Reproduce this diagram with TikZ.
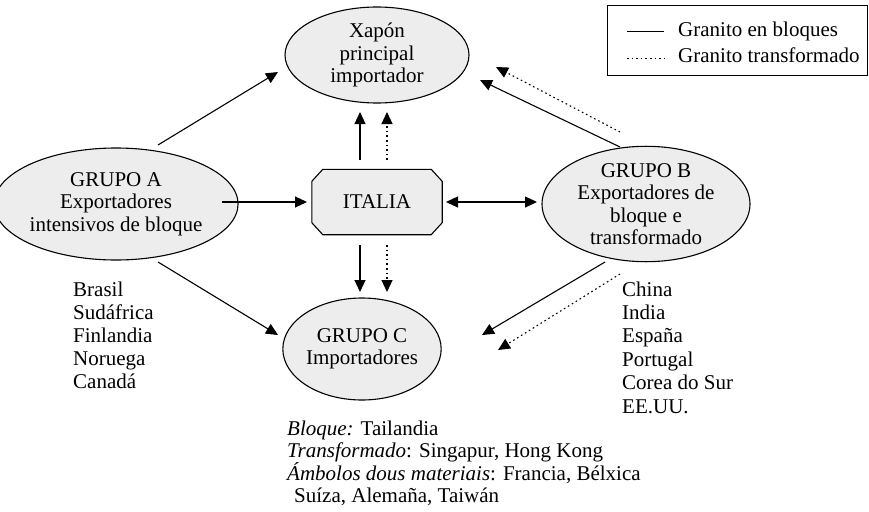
\documentclass[tikz,border=0pt]{standalone}
\usepackage{fontspec}
\setmainfont{Liberation Serif}
\usetikzlibrary{shapes.geometric,arrows.meta}
\begin{document}
\begin{tikzpicture}[x=1pt,y=-1pt,
  every node/.style={font=\fontsize{21}{22.5}\selectfont},
  oval/.style={ellipse,draw,fill=black!7,line width=1.1pt,inner sep=0pt,align=center},
  arr/.style={line width=1.1pt,-{Triangle[length=12pt,width=11pt]}},
  dotarr/.style={arr,dash pattern=on 1.6pt off 3pt},
  txt/.style={anchor=base west,inner sep=0pt}]
\useasboundingbox (0,0) rectangle (869,511);

% legend
\node[draw,line width=0.9pt,minimum width=260pt,minimum height=70pt,anchor=north west,inner sep=0pt] (leg) at (607,5) {};
\coordinate (l1a) at (627,31.5); \coordinate (l1b) at (664,31.5);
\coordinate (l2a) at (627,58.5); \coordinate (l2b) at (664,58.5);
\draw[line width=1pt] (l1a) -- (l1b);
\draw[line width=1pt,dash pattern=on 1.6pt off 3pt] (l2a) -- (l2b);
\node[txt] (lt1) at (678,36.5) {Granito en bloques};
\node[txt] (lt2) at (678,63) {Granito transformado};

% main nodes
\node[oval,minimum width=184pt,minimum height=96pt] (X) at (377,55) {Xapón\\principal\\importador};
\node[oval,minimum width=208pt,minimum height=112pt] (A) at (116,204) {GRUPO A\\Exportadores\\intensivos de bloque};
\node[oval,minimum width=208pt,minimum height=112pt] (B) at (646,204) {GRUPO B\\Exportadores de\\bloque e\\transformado};
\node[oval,minimum width=155pt,minimum height=102pt] (C) at (362,349) {GRUPO C\\Importadores};

\node[inner sep=0pt,minimum width=130pt,minimum height=65pt] (I) at (377,202) {};
\draw[fill=black!7,line width=1.1pt]
  ([xshift=11pt]I.north west) -- ([xshift=-11pt]I.north east) -- ([yshift=-12pt]I.north east)
  -- ([yshift=12pt]I.south east) -- ([xshift=-11pt]I.south east) -- ([xshift=11pt]I.south west)
  -- ([yshift=12pt]I.south west) -- ([yshift=-12pt]I.north west) -- cycle;
\node (It) at (I) {ITALIA};

% connector end points
\coordinate (a1) at (158,145); \coordinate (x1) at (278,72);
\coordinate (a2) at (222,202); \coordinate (i1) at (307,202);
\coordinate (a3) at (158,262); \coordinate (c1) at (278,335);
\coordinate (i2) at (360,160); \coordinate (x2) at (360,112);
\coordinate (i3) at (387,160); \coordinate (x3) at (387,112);
\coordinate (i4) at (360,245); \coordinate (c2) at (360,292);
\coordinate (i5) at (387,245); \coordinate (c3) at (387,292);
\coordinate (i6) at (446,202); \coordinate (b1) at (537,202);
\coordinate (b2) at (620,147); \coordinate (x4) at (480,80);
\coordinate (b3) at (620,132); \coordinate (x5) at (496,67);
\coordinate (b4) at (605,262); \coordinate (c4) at (482,335);
\coordinate (b5) at (620,274); \coordinate (c5) at (498,350);

\draw[arr] (a1) -- (x1);
\draw[arr] (a2) -- (i1);
\draw[arr] (a3) -- (c1);
\draw[arr] (i2) -- (x2);
\draw[dotarr] (i3) -- (x3);
\draw[arr] (i4) -- (c2);
\draw[dotarr] (i5) -- (c3);
\draw[line width=1.1pt,{Triangle[length=12pt,width=11pt]}-{Triangle[length=12pt,width=11pt]}] (i6) -- (b1);
\draw[arr] (b2) -- (x4);
\draw[dotarr] (b3) -- (x5);
\draw[arr] (b4) -- (c4);
\draw[dotarr] (b5) -- (c5);

% lists
\node[txt] (la1) at (73,296) {Brasil};
\node[txt] (la2) at (73,319) {Sudáfrica};
\node[txt] (la3) at (73,342) {Finlandia};
\node[txt] (la4) at (73,365) {Noruega};
\node[txt] (la5) at (73,388) {Canadá};

\node[txt] (lb1) at (622,296) {China};
\node[txt] (lb2) at (622,319.4) {India};
\node[txt] (lb3) at (622,342.8) {España};
\node[txt] (lb4) at (622,366.2) {Portugal};
\node[txt] (lb5) at (622,389.6) {Corea do Sur};
\node[txt] (lb6) at (622,413) {EE.UU.};

\node[txt] (lc1) at (287,435) {\textit{Bloque:} Tailandia};
\node[txt] (lc2) at (287,457.5) {\textit{Transformado}: Singapur, Hong Kong};
\node[txt] (lc3) at (287,480) {\textit{Ámbolos dous materiais}: Francia, Bélxica};
\node[txt] (lc4) at (294,502) {Suíza, Alemaña, Taiwán};
\end{tikzpicture}
\end{document}
